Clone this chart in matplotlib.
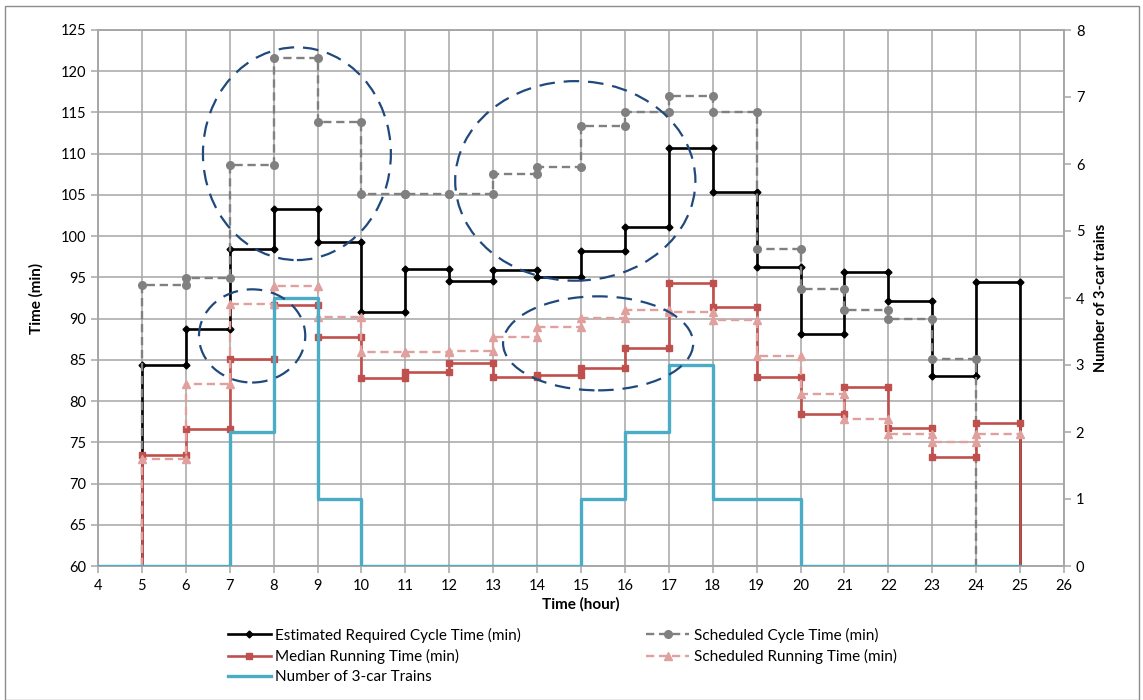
import numpy as np
import matplotlib.pyplot as plt
from matplotlib.lines import Line2D
from matplotlib.patches import Ellipse, Rectangle

plt.rcParams['font.family'] = ['Lato', 'DejaVu Sans']

# ============================================================
# DATA (value for each one-hour block starting at the given hour)
# ============================================================

cycle_start = 5
est_cycle = [84.4, 88.8, 98.4, 103.3, 99.3, 90.8, 96.0, 94.6, 95.9, 95.0,
             98.2, 101.1, 110.7, 105.3, 96.3, 88.1, 95.7, 92.1, 83.1, 94.5]
sched_cycle = [94.1, 94.9, 108.6, 121.6, 113.9, 105.1, 105.1, 105.1, 107.5, 108.4,
               113.4, 115.1, 117.0, 115.1, 98.5, 93.6, 91.0, 90.0, 85.1]
median_run = [73.5, 76.6, 85.1, 91.7, 87.8, 82.8, 83.5, 84.6, 82.9, 83.2,
              84.0, 86.4, 94.3, 91.4, 82.9, 78.4, 81.7, 76.7, 73.2, 77.4]
sched_run = [73.0, 82.1, 91.8, 94.0, 90.2, 86.0, 86.0, 86.1, 87.8, 89.0,
             90.1, 91.0, 90.8, 89.8, 85.5, 80.8, 77.8, 76.0, 75.0, 76.0]

trains_start = 4
trains = [0, 0, 0, 2, 4, 1, 0, 0, 0, 0, 0, 1, 2, 3, 1, 1, 0, 0, 0, 0, 0]

# highlighted regions: (center hour, center min, width h, height min)
highlights = [
    (8.53, 110.0, 4.28, 25.8),
    (7.51, 87.9, 2.42, 11.3),
    (14.87, 106.7, 5.47, 24.2),
    (15.39, 87.0, 4.33, 11.4),
]


def step_xy(start, vals, base=None, drop_end=True):
    xs, ys = [], []
    if base is not None:
        xs.append(start)
        ys.append(base)
    for i, v in enumerate(vals):
        xs += [start + i, start + i + 1]
        ys += [v, v]
    if base is not None and drop_end:
        xs.append(start + len(vals))
        ys.append(base)
    return np.array(xs), np.array(ys)


# ============================================================
# FIGURE
# ============================================================

fig = plt.figure(figsize=(11.43, 7.0), dpi=100)
ax = fig.add_axes([98 / 1143, 1 - 566 / 700, 966 / 1143, 536 / 700])
ax2 = ax.twinx()

grid_c = '#A6A6A6'
black = '#000000'
gray = '#808080'
red = '#C0504D'
pink = '#E0A09E'
blue = '#4BACC6'
navy = '#1F497D'

x, y = step_xy(cycle_start, est_cycle, base=60)
ax.plot(x, y, color=black, lw=1.9, marker='D', ms=3.5, markevery=slice(1, -1), zorder=3)

x, y = step_xy(cycle_start, sched_cycle, base=60)
ax.plot(x, y, color=gray, lw=1.7, ls=(0, (3.5, 2)), marker='o', ms=5.5,
        markevery=slice(1, -1), zorder=3)

x, y = step_xy(cycle_start, median_run, base=60)
ax.plot(x, y, color=red, lw=1.9, marker='s', ms=4.5, markevery=slice(1, -1), zorder=3)

x, y = step_xy(cycle_start, sched_run, base=60, drop_end=False)
ax.plot(x, y, color=pink, lw=1.7, ls=(0, (3.5, 2)), marker='^', ms=6,
        markevery=slice(1, None), zorder=3)

x, y = step_xy(trains_start, trains)
ax2.plot(x, y, color=blue, lw=2.4, zorder=3)

for cx, cy, w, h in highlights:
    ax2.add_patch(Ellipse((cx, cy), w, h, transform=ax.transData, fill=False,
                          edgecolor=navy, lw=1.6, ls=(0, (7, 4)), zorder=5))

# ============================================================
# AXES
# ============================================================

ax.set_xlim(4, 26)
ax.set_ylim(60, 125)
ax2.set_ylim(0, 8)
ax.set_xticks(np.arange(4, 27, 1))
ax.set_yticks(np.arange(60, 126, 5))
ax2.set_yticks(np.arange(0, 9, 1))

ax.grid(True, color=grid_c, lw=1.1)
ax.set_axisbelow(True)

for a in (ax, ax2):
    for s in a.spines.values():
        s.set_color(grid_c)
        s.set_linewidth(1.1)
    a.tick_params(colors=grid_c, labelcolor='black', labelsize=10.5,
                  length=5, width=1.1, direction='out')

ax.tick_params(axis='x', pad=4)
ax.set_xlabel("Time (hour)", fontsize=11, fontweight='bold', labelpad=3)
ax.set_ylabel("Time (min)", fontsize=11, fontweight='bold', labelpad=12)
ax2.set_ylabel("Number of 3-car trains", fontsize=10.5, fontweight='bold', labelpad=7)

# ============================================================
# LEGEND
# ============================================================

handles = [
    Line2D([], [], color=black, lw=1.9, marker='D', ms=3.5),
    Line2D([], [], color=red, lw=1.9, marker='s', ms=4.5),
    Line2D([], [], color=blue, lw=2.4),
    Line2D([], [], color=gray, lw=1.7, ls=(0, (3.5, 2)), marker='o', ms=5.5),
    Line2D([], [], color=pink, lw=1.7, ls=(0, (3.5, 2)), marker='^', ms=6),
]
labels = [
    "Estimated Required Cycle Time (min)",
    "Median Running Time (min)",
    "Number of 3-car Trains",
    "Scheduled Cycle Time (min)",
    "Scheduled Running Time (min)",
]
fig.legend(handles, labels, loc='center', bbox_to_anchor=(0.492, 0.063), ncol=2,
           frameon=False, fontsize=11, handlelength=2.8, handletextpad=0.3,
           columnspacing=8.2, labelspacing=0.4, numpoints=1)

# chart border
fig.add_artist(Rectangle((5 / 1143, 0.0), 1134 / 1143, 1 - 6 / 700,
                         transform=fig.transFigure, fill=False,
                         edgecolor='#8C8C8C', lw=1.0))

plt.savefig('out.png', dpi=100)
